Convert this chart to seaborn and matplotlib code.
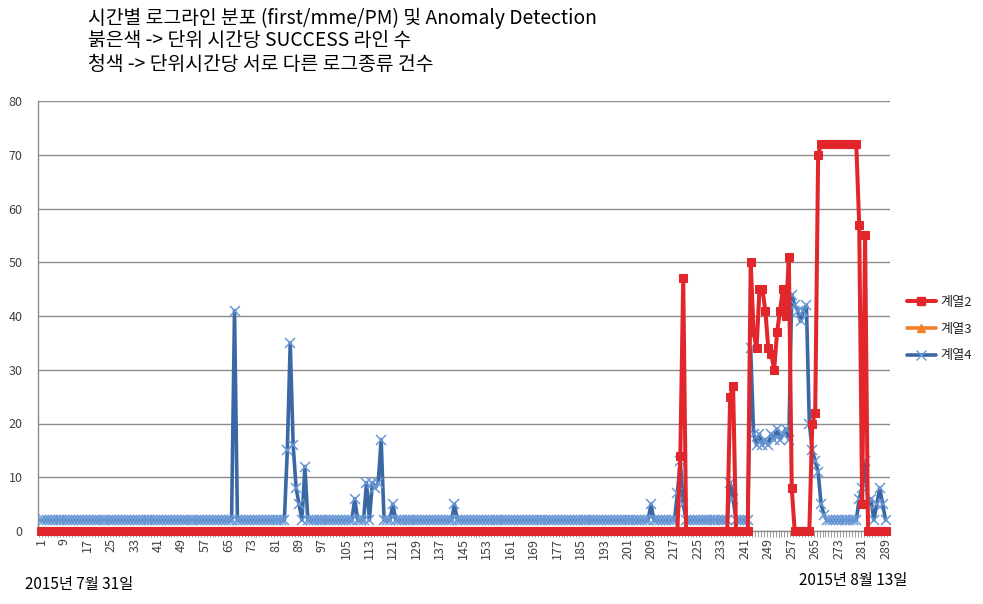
import matplotlib
matplotlib.use("Agg")
import matplotlib.pyplot as plt
from matplotlib.lines import Line2D
import pandas as pd
import seaborn as sns

# ---------------- data ----------------
hours = list(range(1, 290))            # category index 1..289
tick_labels = [str(v) for v in range(1, 290, 8)]

series2 = [  # 계열2 (red)
    0, 0, 0, 0, 0, 0, 0, 0, 0, 0, 0, 0, 0, 0, 0, 0, 0, 0, 0, 0,   # 1-20
    0, 0, 0, 0, 0, 0, 0, 0, 0, 0, 0, 0, 0, 0, 0, 0, 0, 0, 0, 0,   # 21-40
    0, 0, 0, 0, 0, 0, 0, 0, 0, 0, 0, 0, 0, 0, 0, 0, 0, 0, 0, 0,   # 41-60
    0, 0, 0, 0, 0, 0, 0, 0, 0, 0, 0, 0, 0, 0, 0, 0, 0, 0, 0, 0,   # 61-80
    0, 0, 0, 0, 0, 0, 0, 0, 0, 0, 0, 0, 0, 0, 0, 0, 0, 0, 0, 0,   # 81-100
    0, 0, 0, 0, 0, 0, 0, 0, 0, 0, 0, 0, 0, 0, 0, 0, 0, 0, 0, 0,   # 101-120
    0, 0, 0, 0, 0, 0, 0, 0, 0, 0, 0, 0, 0, 0, 0, 0, 0, 0, 0, 0,   # 121-140
    0, 0, 0, 0, 0, 0, 0, 0, 0, 0, 0, 0, 0, 0, 0, 0, 0, 0, 0, 0,   # 141-160
    0, 0, 0, 0, 0, 0, 0, 0, 0, 0, 0, 0, 0, 0, 0, 0, 0, 0, 0, 0,   # 161-180
    0, 0, 0, 0, 0, 0, 0, 0, 0, 0, 0, 0, 0, 0, 0, 0, 0, 0, 0, 0,   # 181-200
    0, 0, 0, 0, 0, 0, 0, 0, 0, 0, 0, 0, 0, 0, 0, 0, 0, 0, 14, 47, # 201-220
    0, 0, 0, 0, 0, 0, 0, 0, 0, 0, 0, 0, 0, 0, 0, 25, 27, 0, 0, 0, # 221-240
    0, 0, 50, 37, 34, 45, 45, 41, 34, 33, 30, 37, 41, 45, 40, 51, 8, 0, 0, 0,  # 241-260
    0, 0, 0, 20, 22, 70, 72, 72, 72, 72, 72, 72, 72, 72, 72, 72, 72, 72, 72, 57,  # 261-280
    5, 55, 0, 0, 0, 0, 0, 0, 0,                                    # 281-289
]

series3 = [None] * 289  # 계열3 (orange) - no visible values

series4 = [  # 계열4 (blue)
    2, 2, 2, 2, 2, 2, 2, 2, 2, 2, 2, 2, 2, 2, 2, 2, 2, 2, 2, 2,   # 1-20
    2, 2, 2, 2, 2, 2, 2, 2, 2, 2, 2, 2, 2, 2, 2, 2, 2, 2, 2, 2,   # 21-40
    2, 2, 2, 2, 2, 2, 2, 2, 2, 2, 2, 2, 2, 2, 2, 2, 2, 2, 2, 2,   # 41-60
    2, 2, 2, 2, 2, 2, 41, 2, 2, 2, 2, 2, 2, 2, 2, 2, 2, 2, 2, 2,  # 61-80
    2, 2, 2, 2, 15, 35, 16, 8, 5, 2, 12, 2, 2, 2, 2, 2, 2, 2, 2, 2,  # 81-100
    2, 2, 2, 2, 2, 2, 2, 6, 2, 2, 2, 9, 2, 9, 8, 9, 17, 2, 2, 2,  # 101-120
    5, 2, 2, 2, 2, 2, 2, 2, 2, 2, 2, 2, 2, 2, 2, 2, 2, 2, 2, 2,   # 121-140
    2, 5, 2, 2, 2, 2, 2, 2, 2, 2, 2, 2, 2, 2, 2, 2, 2, 2, 2, 2,   # 141-160
    2, 2, 2, 2, 2, 2, 2, 2, 2, 2, 2, 2, 2, 2, 2, 2, 2, 2, 2, 2,   # 161-180
    2, 2, 2, 2, 2, 2, 2, 2, 2, 2, 2, 2, 2, 2, 2, 2, 2, 2, 2, 2,   # 181-200
    2, 2, 2, 2, 2, 2, 2, 2, 5, 2, 2, 2, 2, 2, 2, 2, 2, 7, 13, 5,  # 201-220
    2, 2, 2, 2, 2, 2, 2, 2, 2, 2, 2, 2, 2, 2, 2, 9, 6, 2, 2, 2,   # 221-240
    2, 2, 34, 18, 16, 18, 16, 17, 16, 18, 17, 19, 17, 18, 19, 17, 44, 42, 41, 39,  # 241-260
    41, 42, 20, 15, 13, 11, 5, 3, 2, 2, 2, 2, 2, 2, 2, 2, 2, 2, 2, 6,  # 261-280
    8, 13, 5, 6, 2, 5, 8, 5, 2,                                    # 281-289
]

title_lines = [
    "시간별 로그라인 분포 (first/mme/PM) 및 Anomaly Detection",
    "붉은색 -> 단위 시간당 SUCCESS 라인 수",
    "청색 -> 단위시간당 서로 다른 로그종류 건수",
]
series_names = ["계열2", "계열3", "계열4"]
start_label = "2015년 7월 31일"
end_label = "2015년 8월 13일"

RED = "#E1262C"
ORANGE = "#F0802A"
BLUE = "#3B68A5"
BLUE_MK = "#6A9AD6"

# ---------------- style ----------------
sns.set_theme(style="white")
plt.rcParams["font.family"] = ["Noto Sans CJK KR", "DejaVu Sans"]

fig = plt.figure(figsize=(9.83, 6.04), dpi=100)
W, H = 983, 604
ax = fig.add_axes([38 / W, 1 - 531 / H, (890 - 38) / W, (531 - 101) / H])

df = pd.DataFrame({"hour": hours, "s2": series2, "s3": series3, "s4": series4})

sns.lineplot(data=df, x="hour", y="s4", color=BLUE, lw=2.6, marker="x",
             markersize=6.5, markeredgecolor=BLUE_MK, markeredgewidth=1.1,
             ax=ax, zorder=3, sort=False, estimator=None)
s3 = df.dropna(subset=["s3"])
if len(s3):
    sns.lineplot(data=s3, x="hour", y="s3", color=ORANGE, lw=2.6, marker="^",
                 markersize=6, ax=ax, zorder=3.5, sort=False, estimator=None)
sns.lineplot(data=df, x="hour", y="s2", color=RED, lw=2.9, marker="s",
             markersize=6.4, markeredgecolor=RED, ax=ax, zorder=4,
             sort=False, estimator=None, clip_on=False)

ax.set_xlim(0, 290.5)
ax.set_ylim(0, 80)
ax.set_yticks(range(0, 81, 10))
ax.yaxis.grid(True, color="#8C8C8C", lw=1)
ax.xaxis.grid(False)
ax.set_xticks(range(1, 290, 8))
ax.set_xticklabels(tick_labels, rotation=90)
ax.set_xticks([v + 0.5 for v in range(0, 290)], minor=True)
ax.tick_params(axis="x", which="major", length=0, pad=5, labelsize=9,
               labelcolor="#404040")
ax.tick_params(axis="x", which="minor", bottom=True, length=4, width=0.6,
               color="#8C8C8C")
ax.tick_params(axis="y", length=0, pad=11, labelsize=9, labelcolor="#404040")
ax.set_xlabel("")
ax.set_ylabel("")
for side in ["top", "right"]:
    ax.spines[side].set_visible(False)
for side in ["left", "bottom"]:
    ax.spines[side].set_color("#8C8C8C")
    ax.spines[side].set_linewidth(1)

# title
for txt, yc in zip(title_lines, [18, 41, 64]):
    fig.text(88 / W, 1 - yc / H, txt, ha="left", va="center", fontsize=13.9,
             color="#000000")

# date labels
fig.text(25 / W, 1 - 584 / H, start_label, ha="left", va="center",
         fontsize=11, color="#000000")
fig.text(907 / W, 1 - 581 / H, end_label, ha="right", va="center",
         fontsize=11, color="#000000")

# legend
handles = [
    Line2D([], [], color=RED, lw=2.9, marker="s", markersize=6.4),
    Line2D([], [], color=ORANGE, lw=2.6, marker="^", markersize=6),
    Line2D([], [], color=BLUE, lw=2.6, marker="x", markersize=6.5,
           markeredgecolor=BLUE_MK),
]
fig.legend(handles, series_names, loc="center left",
           bbox_to_anchor=(895 / W, 1 - 329 / H), frameon=False, fontsize=9.5,
           handlelength=2.2, handletextpad=0.3, labelspacing=1.05)

fig.savefig("out.png", dpi=100)
